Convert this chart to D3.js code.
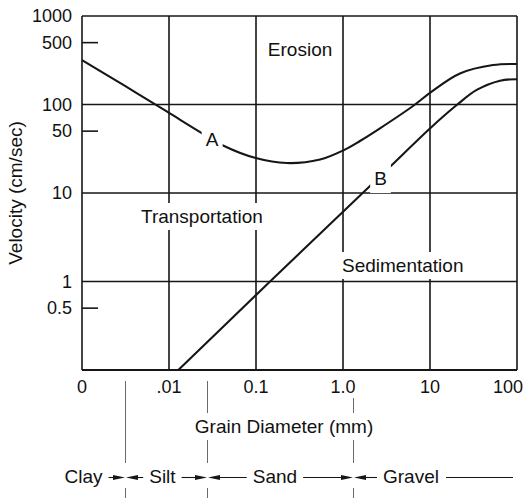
<!DOCTYPE html>
<html>
<head>
<meta charset="utf-8">
<script src="https://cdn.jsdelivr.net/npm/d3@7"></script>
<style>
    body { margin: 0; background: #fff; }
    text { font-family: "Liberation Sans", Arial, Helvetica, sans-serif; fill: #111; }
</style>
</head>
<body>
<svg id="chart" width="527" height="498"></svg>
<script>

// axes
var xTicks = [0.001, 0.01, 0.1, 1, 10, 100];
var xTickLabels = ['0', '.01', '0.1', '1.0', '10', '100'];
var yGrid = [1, 10, 100, 1000];
var yTicks = [1000, 500, 100, 50, 10, 1, 0.5];
var yTickLabels = ['1000', '500', '100', '50', '10', '1', '0.5'];
var yMinorTicks = [500, 50, 0.5];

// curve A (erosion) and curve B (sedimentation), [diameter mm, velocity cm/s]
var curveA = [
    [0.001, 318], [0.00312, 162], [0.00942, 83.4], [0.0238, 47.6], [0.0418, 34.4],
    [0.0993, 24.8], [0.225, 21.8], [0.545, 23.9], [1.0, 30.2], [1.567, 38.7],
    [2.66, 53.8], [6.38, 96.2], [10.26, 138], [22.1, 224], [53, 279], [100, 287]
];
var curveB = [
    [0.0128, 0.1], [0.145, 1.0], [1.57, 9.35], [3.47, 19.8], [10.5, 56.1],
    [20.3, 98.6], [34.4, 146], [63.8, 186], [100, 193]
];

// region labels [text, diameter, velocity]
var regionLabels = [
    ['Erosion', 0.321, 349, 'middle'],
    ['Transportation', 0.0239, 4.58, 'middle'],
    ['Sedimentation', 0.974, 1.28, 'start'],
    ['A', 0.0312, 34, 'middle'],
    ['B', 2.70, 12.3, 'middle']
];

// grain size classes
var classNames = ['Clay', 'Silt', 'Sand', 'Gravel'];
var classCenters = [0.00104, 0.0084, 0.165, 6.05];
var classBounds = [0.0031, 0.027, 1.29];

var svg = d3.select('#chart');

var margin = {top: 16, right: 10, bottom: 128, left: 82};
var width = 527 - margin.left - margin.right;
var height = 498 - margin.top - margin.bottom;

var x = d3.scaleLog()
    .domain([0.001, 100])
    .range([margin.left, margin.left + width]);

var y = d3.scaleLog()
    .domain([0.1, 1000])
    .range([margin.top + height, margin.top]);

var ink = '#161616';

// grid
svg.selectAll('.vgrid')
    .data(xTicks)
    .enter()
    .append('line')
        .attr('class', 'vgrid')
        .attr('x1', function(d) { return x(d); })
        .attr('x2', function(d) { return x(d); })
        .attr('y1', y(1000))
        .attr('y2', y(0.1))
        .attr('stroke', ink)
        .attr('stroke-width', 1.6);

svg.selectAll('.hgrid')
    .data(yGrid)
    .enter()
    .append('line')
        .attr('class', 'hgrid')
        .attr('x1', x(0.001))
        .attr('x2', x(100))
        .attr('y1', function(d) { return y(d); })
        .attr('y2', function(d) { return y(d); })
        .attr('stroke', ink)
        .attr('stroke-width', 1.6);

// bottom axis line
svg.append('line')
    .attr('x1', x(0.001))
    .attr('x2', x(100))
    .attr('y1', y(0.1))
    .attr('y2', y(0.1))
    .attr('stroke', ink)
    .attr('stroke-width', 1.8);

// minor ticks
svg.selectAll('.minor')
    .data(yMinorTicks)
    .enter()
    .append('line')
        .attr('class', 'minor')
        .attr('x1', x(0.001))
        .attr('x2', x(0.001) + 16)
        .attr('y1', function(d) { return y(d); })
        .attr('y2', function(d) { return y(d); })
        .attr('stroke', ink)
        .attr('stroke-width', 1.6);

// curves
var line = d3.line()
    .x(function(d) { return x(d[0]); })
    .y(function(d) { return y(d[1]); })
    .curve(d3.curveCatmullRom.alpha(0.5));

svg.selectAll('.curve')
    .data([curveA, curveB])
    .enter()
    .append('path')
        .attr('class', 'curve')
        .attr('d', line)
        .attr('fill', 'none')
        .attr('stroke', ink)
        .attr('stroke-width', 2.1);

// grain class dividers
svg.selectAll('.divider')
    .data(classBounds)
    .enter()
    .append('path')
        .attr('class', 'divider')
        .attr('d', function(d) {
            var bx = Math.round(x(d)) + 0.5;
            return 'M' + bx + ',381V463M' + bx + ',488V498';
        })
        .attr('stroke', '#6a6a6a')
        .attr('stroke-width', 1);

// label with white knock-out box
function knockLabel(parent, str, px, py, anchor, size, padX, padY) {
    var g = parent.append('g');
    var t = g.append('text')
        .attr('x', px)
        .attr('y', py)
        .attr('text-anchor', anchor)
        .style('font-size', size + 'px')
        .text(str);
    var b = t.node().getBBox();
    g.insert('rect', 'text')
        .attr('x', b.x - padX)
        .attr('y', b.y - padY)
        .attr('width', b.width + padX * 2)
        .attr('height', b.height + padY * 2)
        .attr('fill', '#fff');
    return t;
}

// x tick labels
xTicks.forEach(function(d, i) {
    var last = i === xTicks.length - 1;
    knockLabel(svg, xTickLabels[i], last ? x(d) + 6 : x(d), 393, last ? 'end' : 'middle', 18, 1, 1);
});

// y tick labels
yTicks.forEach(function(d, i) {
    svg.append('text')
        .attr('x', 72)
        .attr('y', y(d))
        .attr('dy', '0.34em')
        .attr('text-anchor', 'end')
        .style('font-size', '18px')
        .text(yTickLabels[i]);
});

// region labels
regionLabels.forEach(function(d) {
    var pad = d[0].length === 1 ? 4 : 3;
    knockLabel(svg, d[0], x(d[1]), y(d[2]), d[3], 19, pad, pad);
});

// axis titles
svg.append('text')
    .attr('transform', 'translate(22,' + ((y(1000) + y(0.1)) / 2) + ') rotate(-90)')
    .attr('text-anchor', 'middle')
    .style('font-size', '19px')
    .text('Velocity (cm/sec)');

knockLabel(svg, 'Grain Diameter (mm)', x(0.21), 433, 'middle', 19, 4, 3);

// grain class row
var rowY = 483;
var arrowY = 477.5;
var edges = [];

classNames.forEach(function(name, i) {
    var t = svg.append('text')
        .attr('x', x(classCenters[i]))
        .attr('y', rowY)
        .attr('text-anchor', 'middle')
        .style('font-size', '19px')
        .text(name);
    var w = t.node().getComputedTextLength();
    edges.push([x(classCenters[i]) - w / 2, x(classCenters[i]) + w / 2]);
});

function arrow(from, to) {
    var dir = to > from ? 1 : -1;
    svg.append('line')
        .attr('x1', from)
        .attr('x2', to - dir * 6)
        .attr('y1', arrowY)
        .attr('y2', arrowY)
        .attr('stroke', ink)
        .attr('stroke-width', 1.1);
    svg.append('path')
        .attr('d', 'M' + to + ',' + arrowY +
            'L' + (to - dir * 12) + ',' + (arrowY - 2.6) +
            'L' + (to - dir * 12) + ',' + (arrowY + 2.6) + 'Z')
        .attr('fill', ink);
}

classBounds.forEach(function(d, i) {
    var bx = Math.round(x(d)) + 0.5;
    arrow(edges[i][1] + 6, bx - 0.5);
    arrow(edges[i + 1][0] - 6, bx + 0.5);
});

// trailing line after gravel
svg.append('line')
    .attr('x1', edges[3][1] + 7)
    .attr('x2', x(100) - 4)
    .attr('y1', arrowY)
    .attr('y2', arrowY)
    .attr('stroke', ink)
    .attr('stroke-width', 1.1);

</script>
</body>
</html>
